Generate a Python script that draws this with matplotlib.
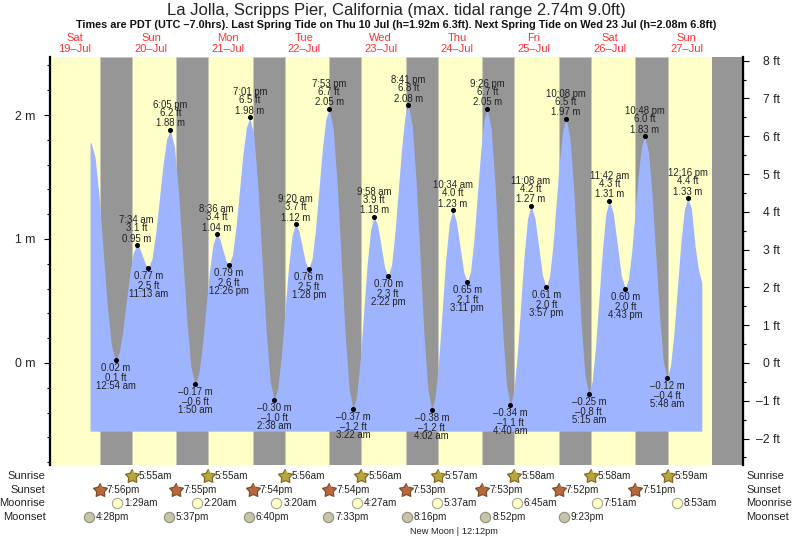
import matplotlib
matplotlib.use('Agg')
import matplotlib.pyplot as plt
import numpy as np

plt.rcParams['font.family'] = ['Liberation Sans', 'DejaVu Sans']

W, H = 793, 539

# hours counted from 19 Jul 00:00, heights in metres
tide_hours = [
    16.9, 17.2, 18.48, 19.77, 21.05, 22.33, 23.62,
    24.90, 26.01, 27.12, 28.24, 29.35, 30.46,
    31.57, 32.48, 33.40, 34.31,
    35.22, 36.36, 37.51, 38.65, 39.79, 40.94,
    42.08, 43.37, 44.66, 45.96, 47.25, 48.54,
    49.83, 50.96, 52.09, 53.22, 54.34, 55.47,
    56.60, 57.56, 58.52, 59.47,
    60.43, 61.53, 62.63, 63.73, 64.82, 65.92,
    67.02, 68.29, 69.56, 70.83, 72.09, 73.36,
    74.63, 75.75, 76.86, 77.98, 79.10, 80.21,
    81.33, 82.37, 83.40, 84.44,
    85.47, 86.54, 87.61, 88.68, 89.74, 90.81,
    91.88, 93.13, 94.38, 95.63, 96.87, 98.12,
    99.37, 100.47, 101.57, 102.67, 103.77, 104.87,
    105.97, 107.07, 108.17, 109.27,
    110.37, 111.42, 112.47, 113.53, 114.58, 115.63,
    116.68, 117.91, 119.13, 120.36, 121.58, 122.81,
    124.03, 125.12, 126.21, 127.30, 128.39, 129.48,
    130.57, 131.72, 132.88, 134.03,
    135.18, 136.22, 137.26, 138.31, 139.35, 140.39,
    141.43, 142.64, 143.84, 145.05, 146.26, 147.46,
    148.67, 149.75, 150.82, 151.90, 152.98, 154.05,
    155.13, 156.34, 157.54, 158.75,
    159.95, 160.98, 162.01, 163.04, 164.07, 165.10,
    166.13, 167.32, 168.50, 169.69, 170.88, 172.06,
    173.25, 174.33, 175.40, 176.48, 177.55, 178.63,
    179.70, 180.96, 182.21, 183.47,
    184.72, 185.73, 186.75, 187.76, 188.77, 189.79,
    190.80, 191.97, 193.13, 194.30, 195.47, 196.63,
    197.80, 198.88, 199.96, 201.04, 202.11, 203.19,
    204.27, 205.40, 206.55, 207.60, 208.70,
]
tide_m = [
    1.77, 1.78, 1.66, 1.34, 0.90, 0.46, 0.14,
    0.02, 0.08, 0.25, 0.485, 0.72, 0.89,
    0.95, 0.924, 0.86, 0.796,
    0.77, 0.844, 1.05, 1.325, 1.60, 1.806,
    1.88, 1.743, 1.368, 0.855, 0.343, -0.033,
    -0.17, -0.089, 0.133, 0.435, 0.738, 0.959,
    1.04, 1.003, 0.915, 0.827,
    0.79, 0.87, 1.088, 1.385, 1.683, 1.90,
    1.98, 1.827, 1.41, 0.84, 0.27, -0.147,
    -0.30, -0.205, 0.055, 0.41, 0.765, 1.025,
    1.12, 1.067, 0.94, 0.813,
    0.76, 0.846, 1.083, 1.405, 1.728, 1.964,
    2.05, 1.888, 1.445, 0.84, 0.235, -0.208,
    -0.37, -0.266, 0.018, 0.405, 0.793, 1.076,
    1.18, 1.11, 0.94, 0.77,
    0.70, 0.792, 1.045, 1.39, 1.735, 1.988,
    2.08, 1.915, 1.465, 0.85, 0.235, -0.215,
    -0.38, -0.272, 0.023, 0.425, 0.828, 1.122,
    1.23, 1.145, 0.94, 0.735,
    0.65, 0.744, 1.0, 1.35, 1.70, 1.956,
    2.05, 1.89, 1.453, 0.855, 0.258, -0.18,
    -0.34, -0.232, 0.063, 0.465, 0.868, 1.162,
    1.27, 1.174, 0.94, 0.706,
    0.61, 0.70, 0.95, 1.29, 1.63, 1.879,
    1.97, 1.821, 1.415, 0.86, 0.305, -0.101,
    -0.25, -0.145, 0.14, 0.53, 0.92, 1.205,
    1.31, 1.206, 0.955, 0.704,
    0.60, 0.682, 0.908, 1.215, 1.523, 1.748,
    1.83, 1.70, 1.343, 0.855, 0.368, 0.011,
    -0.12, -0.023, 0.243, 0.605, 0.968, 1.233,
    1.33, 1.25, 0.95, 0.76, 0.645,
]

# low and high waters: day index, clock time, metres, feet
low_days = [1, 2, 3, 4, 5, 6, 7, 8]
low_times = ['12:54 am', '1:50 am', '2:38 am', '3:22 am', '4:02 am', '4:40 am', '5:15 am', '5:48 am']
low_m = [0.02, -0.17, -0.30, -0.37, -0.38, -0.34, -0.25, -0.12]
low_ft = [0.1, -0.6, -1.0, -1.2, -1.2, -1.1, -0.8, -0.4]

mid_days = [1, 2, 3, 4, 5, 6, 7]
mid_times = ['11:13 am', '12:26 pm', '1:28 pm', '2:22 pm', '3:11 pm', '3:57 pm', '4:43 pm']
mid_m = [0.77, 0.79, 0.76, 0.70, 0.65, 0.61, 0.60]
mid_ft = [2.5, 2.6, 2.5, 2.3, 2.1, 2.0, 2.0]

high_days = [1, 2, 3, 4, 5, 6, 7, 8,
             1, 2, 3, 4, 5, 6, 7]
high_times = ['7:34 am', '8:36 am', '9:20 am', '9:58 am', '10:34 am', '11:08 am', '11:42 am', '12:16 pm',
              '6:05 pm', '7:01 pm', '7:53 pm', '8:41 pm', '9:26 pm', '10:08 pm', '10:48 pm']
high_m = [0.95, 1.04, 1.12, 1.18, 1.23, 1.27, 1.31, 1.33,
          1.88, 1.98, 2.05, 2.08, 2.05, 1.97, 1.83]
high_ft = [3.1, 3.4, 3.7, 3.9, 4.0, 4.2, 4.3, 4.4,
           6.2, 6.5, 6.7, 6.8, 6.7, 6.5, 6.0]

day_names = ['Sat', 'Sun', 'Mon', 'Tue', 'Wed', 'Thu', 'Fri', 'Sat', 'Sun']
day_dates = ['19', '20', '21', '22', '23', '24', '25', '26', '27']

sunrise = ['5:55am', '5:55am', '5:56am', '5:56am', '5:57am', '5:58am', '5:58am', '5:59am']
sunset = ['7:56pm', '7:55pm', '7:54pm', '7:54pm', '7:53pm', '7:53pm', '7:52pm', '7:51pm']
moonrise = ['1:29am', '2:20am', '3:20am', '4:27am', '5:37am', '6:45am', '7:51am', '8:53am']
moonset = ['4:28pm', '5:37pm', '6:40pm', '7:33pm', '8:16pm', '8:52pm', '9:23pm']
last_sunset = '7:50pm'

title = 'La Jolla, Scripps Pier, California (max. tidal range 2.74m 9.0ft)'
subtitle = ('Times are PDT (UTC \u20137.0hrs). Last Spring Tide on Thu 10 Jul (h=1.92m 6.3ft). '
            'Next Spring Tide on Wed 23 Jul (h=2.08m 6.8ft)')

YELLOW = '#ffffc8'
GRAY = '#969696'
BLUE = '#9fb4ff'
RED = '#ff3030'
TEXT = '#222222'


def to_hours(day, clock):
    clock = clock.replace(' ', '')
    hh, mm = clock[:-2].split(':')
    hh = int(hh) % 12
    if clock.endswith('pm'):
        hh += 12
    return day * 24 + hh + int(mm) / 60


def dash(value, fmt, unit):
    return (fmt % value).replace('-', '\u2013') + ' ' + unit


fig = plt.figure(figsize=(W / 100, H / 100), dpi=100)
ax = fig.add_axes([49.5 / W, 1 - 465 / H, (743 - 49.5) / W, (465 - 57) / H])
ax.set_xlim(4.2, 221.6)
ax.set_ylim(-0.823, 2.468)
ax.set_facecolor(YELLOW)

# nights
for i in range(len(sunset)):
    ax.axvspan(to_hours(i, sunset[i]), to_hours(i + 1, sunrise[i]), fc=GRAY, lw=0.6, ec='#c8c8b8', zorder=1)
ax.axvspan(to_hours(8, last_sunset), 221.6, fc=GRAY, lw=0, zorder=1)

ax.fill_between(tide_hours, -0.55, tide_m, color=BLUE, lw=0, zorder=2)

# extremes, labels above the high waters and below the lows
for d, t, m, f in zip(high_days, high_times, high_m, high_ft):
    x = to_hours(d, t)
    ax.plot([x], [m], 'o', color='k', ms=2.6, zorder=4)
    for off, s in ((6.5, dash(m, '%.2f', 'm')), (17, dash(f, '%.1f', 'ft')), (25, t)):
        ax.annotate(s, (x, m), xytext=(0, off * 0.72), textcoords='offset points', ha='center', va='center',
                    fontsize=6.9, color=TEXT, zorder=5, annotation_clip=False)

for days, times, ms, fts in ((low_days, low_times, low_m, low_ft), (mid_days, mid_times, mid_m, mid_ft)):
    for d, t, m, f in zip(days, times, ms, fts):
        x = to_hours(d, t)
        ax.plot([x], [m], 'o', color='k', ms=2.6, zorder=4)
        for off, s in ((8, dash(m, '%.2f', 'm')), (18, dash(f, '%.1f', 'ft')), (26, t)):
            ax.annotate(s, (x, m), xytext=(0, -off * 0.72), textcoords='offset points', ha='center', va='center',
                        fontsize=6.9, color=TEXT, zorder=5, annotation_clip=False)

# axes
for side in ('top', 'bottom'):
    ax.spines[side].set_visible(False)
ax.spines['left'].set_linewidth(1.6)
ax.set_xticks([])
ax.set_yticks([0, 1, 2])
ax.set_yticklabels(['0 m', '1 m', '2 m'], fontsize=8.8, color=TEXT)
ax.set_yticks([i * 0.2 for i in range(-4, 13) if i % 5], minor=True)
ax.tick_params(axis='y', which='major', length=4.6, width=0.8, pad=5.5)
ax.tick_params(axis='y', which='minor', length=2, width=0.8)

ax2 = ax.twinx()
ax2.set_position(ax.get_position())
ax2.set_ylim(-0.823 * 3.28084, 2.468 * 3.28084)
for side in ('top', 'bottom', 'left'):
    ax2.spines[side].set_visible(False)
ax2.spines['right'].set_linewidth(1.6)
ft_ticks = list(range(-2, 9))
ax2.set_yticks(ft_ticks)
ax2.set_yticklabels([dash(v, '%d', 'ft') for v in ft_ticks], fontsize=8.8, color=TEXT, ha='right')
ax2.set_yticks([v + 0.5 for v in range(-3, 8)], minor=True)
ax2.tick_params(axis='y', which='major', length=4.6, width=0.8, pad=22)
ax2.tick_params(axis='y', which='minor', length=2.2, width=0.8)


# titles, in figure pixels
def fig_text(x, y, s, **kw):
    fig.text(x / W, 1 - y / H, s, va='center', **kw)


fig_text(396, 10, title, ha='center', fontsize=12.0, color=TEXT)
fig_text(396, 25.5, subtitle, ha='center', fontsize=7.82, fontweight='bold', color='#111111')

trans = ax.get_xaxis_transform()
for i, (n, d) in enumerate(zip(day_names, day_dates)):
    x = i * 24 + 12
    for y, s in ((38, n), (49, d + '\u2013Jul')):
        ax.text(x, 1 - (y - 57) / (465 - 57), s, transform=trans, ha='center', va='center',
                fontsize=8.0, color=RED, clip_on=False)

# fatter star than matplotlib's own, as in the original
angles = np.pi / 2 + np.arange(10) * np.pi / 5
radii = np.where(np.arange(10) % 2 == 0, 1.0, 0.55)
fat_star = np.column_stack([radii * np.cos(angles), radii * np.sin(angles)])

# rise and set rows
rows = (
    ('Sunrise', 476, sunrise, 1, dict(marker=fat_star, ms=10.5, mfc='#b5a83a', mec='#8c6428', mew=0.9)),
    ('Sunset', 490, sunset, 0, dict(marker=fat_star, ms=10.5, mfc='#b8683f', mec='#7c5028', mew=0.9)),
    ('Moonrise', 503, moonrise, 1, dict(marker='o', ms=7.4, mfc='#ffffc8', mec='#a8a890', mew=0.8)),
    ('Moonset', 517, moonset, 0, dict(marker='o', ms=7.4, mfc='#c8c4a8', mec='#908c80', mew=0.8)),
)
for name, y, values, first_day, style in rows:
    fig_text(45.5, y, name, ha='right', fontsize=8.0, color=TEXT)
    fig_text(746.5, y, name, ha='left', fontsize=8.0, color=TEXT)
    ya = 1 - (y - 57) / (465 - 57)
    for i, v in enumerate(values):
        x = to_hours(first_day + i, v)
        ax.plot([x], [ya], transform=trans, clip_on=False, zorder=6, ls='none', **style)
        ax.annotate(v, (x, ya), xycoords=trans, xytext=(5.0, 0), textcoords='offset points', va='center', ha='left',
                    fontsize=7.2, color=TEXT, annotation_clip=False)

fig_text(454, 531, 'New Moon | 12:12pm', ha='center', fontsize=6.7, color=TEXT)

fig.savefig('out.png', dpi=100)
